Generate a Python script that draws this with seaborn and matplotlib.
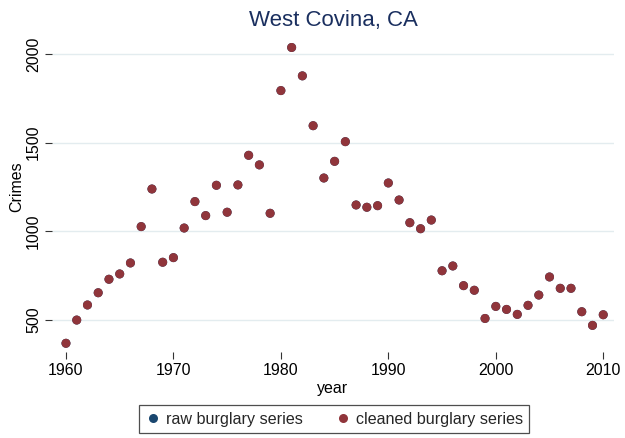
import matplotlib
matplotlib.use("Agg")
import matplotlib.pyplot as plt
import seaborn as sns
import pandas as pd

years = list(range(1960, 2011))
raw_burglary = [369, 500, 585, 654, 730, 760, 822, 1027, 1239, 826,
                852, 1019, 1168, 1089, 1260, 1108, 1262, 1429, 1375, 1102,
                1794, 2037, 1877, 1596, 1301, 1395, 1506, 1149, 1136, 1145,
                1273, 1177, 1049, 1015, 1064, 778, 805, 694, 668, 509,
                577, 560, 532, 583, 641, 743, 679, 679, 547, 470,
                530]
cleaned_burglary = list(raw_burglary)

series_labels = ["raw burglary series", "cleaned burglary series"]
x_ticks = [1960, 1970, 1980, 1990, 2000, 2010]
y_ticks = [500, 1000, 1500, 2000]

df = pd.DataFrame({
    "year": years * 2,
    "Crimes": raw_burglary + cleaned_burglary,
    "series": [series_labels[0]] * len(years) + [series_labels[1]] * len(years),
})

sns.set_theme(style="white")
plt.rcParams["font.family"] = ["Liberation Sans", "DejaVu Sans"]

fig = plt.figure(figsize=(6.25, 4.38), dpi=100)
ax = fig.add_axes([0.0832, 0.196, 0.8992, 0.713])

palette = {series_labels[0]: "#1a476f", series_labels[1]: "#90353b"}
sns.scatterplot(data=df, x="year", y="Crimes", hue="series", palette=palette,
                s=42, edgecolor="none", ax=ax, legend=False, zorder=3)

ax.set_xlim(1958.7, 2011.0)
ax.set_ylim(319, 2080)
ax.set_xticks(x_ticks)
ax.set_yticks(y_ticks)
ax.set_yticklabels([str(v) for v in y_ticks], rotation=90, va="center")
ax.tick_params(axis="both", which="both", length=5, width=0.8, color="#333333",
               labelsize=11.5, labelcolor="black", pad=3, bottom=True, left=True)
ax.grid(axis="y", color="#e3ecef", linewidth=1.0)
ax.grid(axis="x", visible=False)
for sp in ax.spines.values():
    sp.set_visible(False)

ax.set_xlabel("year", fontsize=11.5, color="black", labelpad=2)
ax.set_ylabel("Crimes", fontsize=11.5, color="black", labelpad=0)
ax.yaxis.set_label_coords(-0.05, 0.53)
ax.set_title("West Covina, CA", fontsize=16, color="#1a2f5f", pad=10)

handles = [plt.Line2D([], [], marker="o", linestyle="none", markersize=6.5,
                      markerfacecolor=palette[l], markeredgecolor="none") for l in series_labels]
leg = fig.legend(handles, series_labels, loc="lower center", ncol=2,
                 bbox_to_anchor=(0.535, 0.003), frameon=True, fancybox=False,
                 fontsize=11.6, handletextpad=0.35, columnspacing=2.0,
                 borderpad=0.42, borderaxespad=0.2, handlelength=0.9)
leg.get_frame().set_edgecolor("#222222")
leg.get_frame().set_linewidth(0.9)

fig.savefig("out.png", dpi=100, facecolor="white")
